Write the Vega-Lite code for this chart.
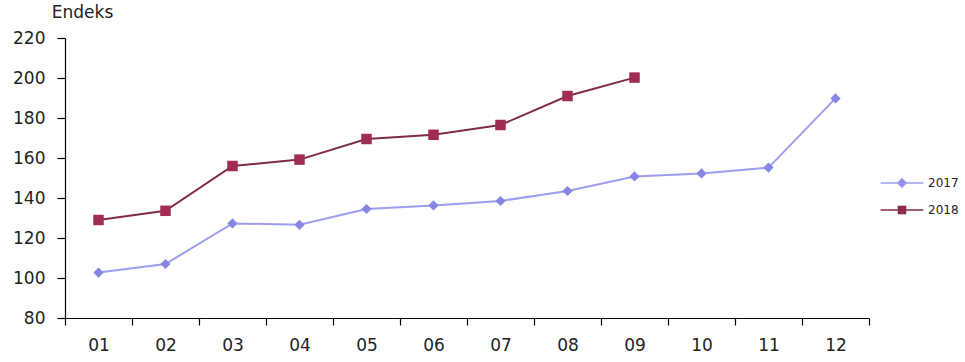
{
  "$schema": "https://vega.github.io/schema/vega-lite/v6.json",
  "width": 804,
  "height": 280,
  "autosize": "none",
  "padding": {"left": 65, "top": 38, "right": 96, "bottom": 44},
  "background": "white",
  "config": {
    "view": {"stroke": null},
    "font": "DejaVu Sans",
    "axis": {
      "labelFont": "DejaVu Sans",
      "labelFontSize": 17,
      "labelColor": "#222222",
      "domainColor": "#000000",
      "domainWidth": 1.2,
      "tickColor": "#000000",
      "tickWidth": 1.2,
      "grid": false
    }
  },
  "data": {
    "values": [
      {"ay": "01", "yil": "2017", "endeks": 102.7},
      {"ay": "02", "yil": "2017", "endeks": 107.0},
      {"ay": "03", "yil": "2017", "endeks": 127.3},
      {"ay": "04", "yil": "2017", "endeks": 126.6},
      {"ay": "05", "yil": "2017", "endeks": 134.5},
      {"ay": "06", "yil": "2017", "endeks": 136.3},
      {"ay": "07", "yil": "2017", "endeks": 138.5},
      {"ay": "08", "yil": "2017", "endeks": 143.5},
      {"ay": "09", "yil": "2017", "endeks": 150.8},
      {"ay": "10", "yil": "2017", "endeks": 152.3},
      {"ay": "11", "yil": "2017", "endeks": 155.2},
      {"ay": "12", "yil": "2017", "endeks": 189.8},
      {"ay": "01", "yil": "2018", "endeks": 129.0},
      {"ay": "02", "yil": "2018", "endeks": 133.6},
      {"ay": "03", "yil": "2018", "endeks": 156.0},
      {"ay": "04", "yil": "2018", "endeks": 159.2},
      {"ay": "05", "yil": "2018", "endeks": 169.5},
      {"ay": "06", "yil": "2018", "endeks": 171.6},
      {"ay": "07", "yil": "2018", "endeks": 176.5},
      {"ay": "08", "yil": "2018", "endeks": 191.0},
      {"ay": "09", "yil": "2018", "endeks": 200.2}
    ]
  },
  "encoding": {
    "x": {
      "field": "ay",
      "type": "ordinal",
      "scale": {"type": "band", "paddingInner": 0, "paddingOuter": 0},
      "axis": {
        "title": null,
        "labelAngle": 0,
        "tickBand": "extent",
        "tickSize": 7,
        "labelPadding": 12
      }
    },
    "y": {
      "field": "endeks",
      "type": "quantitative",
      "scale": {"domain": [80, 220], "nice": false, "zero": false},
      "axis": {
        "values": [80, 100, 120, 140, 160, 180, 200, 220],
        "tickSize": 8,
        "labelPadding": 12,
        "title": "Endeks",
        "titleAngle": 0,
        "titleX": 17,
        "titleY": -26,
        "titleAlign": "center",
        "titleBaseline": "middle",
        "titleFont": "DejaVu Sans",
        "titleFontSize": 17,
        "titleFontWeight": "normal",
        "titleColor": "#222222"
      }
    }
  },
  "layer": [
    {
      "mark": {"type": "line", "strokeWidth": 2},
      "encoding": {
        "stroke": {
          "field": "yil",
          "type": "nominal",
          "scale": {"domain": ["2017", "2018"], "range": ["#9D9DF0", "#7E2B48"]},
          "legend": {
            "title": null,
            "orient": "none",
            "legendX": 831,
            "legendY": 139,
            "padding": 0,
            "symbolSize": 49,
            "symbolStrokeWidth": 1.5,
            "rowPadding": 12,
            "labelOffset": 20,
            "labelFont": "DejaVu Sans",
            "labelFontSize": 12,
            "labelColor": "#222222",
            "encode": {
              "symbols": {
                "update": {
                  "shape": {"signal": "datum.value === '2017' ? 'M-6.1,0L6.1,0M0,-1.2L1.2,0L0,1.2L-1.2,0Z' : 'M-6.1,0L6.1,0M-1,-1L1,-1L1,1L-1,1Z'"},
                  "fill": {"signal": "datum.value === '2017' ? '#8585E3' : '#A02B55'"},
                  "stroke": {"signal": "datum.value === '2017' ? '#9D9DF0' : '#7E2B48'"},
                  "strokeWidth": {"value": 1.5},
                  "opacity": {"value": 1}
                }
              }
            }
          }
        }
      }
    },
    {
      "transform": [{"filter": "datum.yil === '2017'"}],
      "mark": {"type": "point", "filled": true, "shape": "diamond", "size": 105, "color": "#8585E3", "opacity": 1}
    },
    {
      "transform": [{"filter": "datum.yil === '2018'"}],
      "mark": {"type": "point", "filled": true, "shape": "square", "size": 110, "color": "#A02B55", "opacity": 1}
    }
  ]
}
